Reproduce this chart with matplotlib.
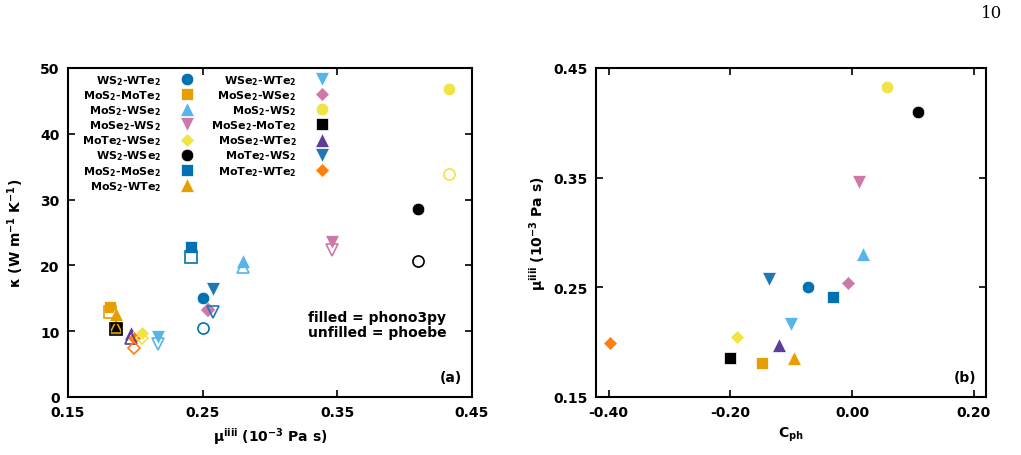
import matplotlib
matplotlib.use("Agg")
import matplotlib.pyplot as plt

plt.rcParams['font.family'] = 'DejaVu Sans'
plt.rcParams['font.weight'] = 'bold'
plt.rcParams['mathtext.default'] = 'bf'
plt.rcParams['axes.linewidth'] = 1.5

# systems in legend order
systems = ["WS$_2$-WTe$_2$", "MoS$_2$-MoTe$_2$", "MoS$_2$-WSe$_2$", "MoSe$_2$-WS$_2$",
           "MoTe$_2$-WSe$_2$", "WS$_2$-WSe$_2$", "MoS$_2$-MoSe$_2$", "MoS$_2$-WTe$_2$",
           "WSe$_2$-WTe$_2$", "MoSe$_2$-WSe$_2$", "MoS$_2$-WS$_2$", "MoSe$_2$-MoTe$_2$",
           "MoSe$_2$-WTe$_2$", "MoTe$_2$-WS$_2$", "MoTe$_2$-WTe$_2$"]
colors = ["#0072B2", "#E69F00", "#56B4E9", "#CC79A7", "#F0E442", "black", "#0072B2", "#E69F00",
          "#56B4E9", "#CC79A7", "#F0E442", "black", "#5E3C99", "#1F77B4", "#FF7F0E"]
markers = ["o", "s", "^", "v", "D", "o", "s", "^", "v", "D", "o", "s", "^", "v", "D"]

# viscosity (10^-3 Pa s)
mu = [0.250, 0.181, 0.280, 0.346, 0.205, 0.410, 0.241, 0.186,
      0.217, 0.254, 0.433, 0.186, 0.197, 0.258, 0.199]
# thermal conductivity, phono3py (filled) and phoebe (unfilled)
kappa_phono3py = [15.0, 13.7, 20.7, 23.5, 9.7, 28.6, 22.8, 12.6,
                  9.1, 13.4, 46.8, 10.5, 9.7, 16.4, 9.0]
kappa_phoebe = [10.5, 12.9, 19.8, 22.3, 9.0, 20.7, 21.3, 10.6,
                8.1, 13.2, 33.9, 10.4, 9.0, 12.9, 7.4]
# C_ph
c_ph = [-0.073, -0.148, 0.018, 0.012, -0.190, 0.109, -0.032, -0.096,
        -0.100, -0.006, 0.057, -0.200, -0.120, -0.136, -0.398]

fig = plt.figure(figsize=(10.21, 4.56), dpi=100)
ax1 = fig.add_axes([0.0666, 0.1272, 0.3957, 0.7215])
ax2 = fig.add_axes([0.5837, 0.1272, 0.3820, 0.7215])

sizes = {"o": 9, "s": 9, "^": 9.5, "v": 9.5, "D": 7.5}

for i in range(len(systems)):
    m = markers[i]
    ax1.plot(mu[i], kappa_phono3py[i], marker=m, ms=sizes[m], color=colors[i],
             mec="white", mew=0.5, ls="none", label=systems[i])
for i in range(len(systems)):
    m = markers[i]
    ax1.plot(mu[i], kappa_phoebe[i], marker=m, ms=sizes[m] - 1, mfc="none",
             mec=colors[i], mew=1.2, ls="none")

for i in range(len(systems)):
    m = markers[i]
    ax2.plot(c_ph[i], mu[i], marker=m, ms=sizes[m], color=colors[i],
             mec="white", mew=0.5, ls="none")

ax1.set_xlim(0.15, 0.45)
ax1.set_ylim(0, 50)
ax1.set_xticks([0.15, 0.25, 0.35, 0.45])
ax1.set_xticklabels(["0.15", "0.25", "0.35", "0.45"])
ax1.set_yticks([0, 10, 20, 30, 40, 50])
ax1.set_xlabel("μ$^{iiii}$ (10$^{-3}$ Pa s)", fontsize=10, fontweight="bold")
ax1.set_ylabel("κ (W m$^{-1}$ K$^{-1}$)", fontsize=10, fontweight="bold", labelpad=10)
ax1.text(0.594, 0.22, "filled = phono3py\nunfilled = phoebe", transform=ax1.transAxes,
         fontsize=10, fontweight="bold", ha="left", va="center", linespacing=1.1)
ax1.text(0.975, 0.04, "(a)", transform=ax1.transAxes, fontsize=10,
         fontweight="bold", ha="right", va="bottom")

ax1.legend(loc="upper left", bbox_to_anchor=(0.035, 0.985), ncol=2, frameon=False,
           markerfirst=False, labelspacing=0.12, handletextpad=1.3,
           columnspacing=1.2, borderpad=0, borderaxespad=0, handlelength=2.0,
           prop={"weight": "bold", "size": 8})

ax2.set_xlim(-0.421, 0.22)
ax2.set_ylim(0.15, 0.45)
ax2.set_xticks([-0.4, -0.2, 0.0, 0.2])
ax2.set_xticklabels(["-0.40", "-0.20", "0.00", "0.20"])
ax2.set_yticks([0.15, 0.25, 0.35, 0.45])
ax2.set_yticklabels(["0.15", "0.25", "0.35", "0.45"])
ax2.set_xlabel("C$_{ph}$", fontsize=10, fontweight="bold")
ax2.set_ylabel("μ$^{iiii}$ (10$^{-3}$ Pa s)", fontsize=10, fontweight="bold")
ax2.text(0.975, 0.04, "(b)", transform=ax2.transAxes, fontsize=10,
         fontweight="bold", ha="right", va="bottom")

for ax in (ax1, ax2):
    ax.tick_params(direction="in", top=True, right=True, length=5, width=1.2,
                   labelsize=10, pad=6)
    for lab in ax.get_xticklabels() + ax.get_yticklabels():
        lab.set_fontweight("bold")

fig.text(0.982, 0.988, "10", fontsize=12, family="DejaVu Serif", fontweight="normal",
         ha="right", va="top")

fig.savefig("out.png", dpi=100)
